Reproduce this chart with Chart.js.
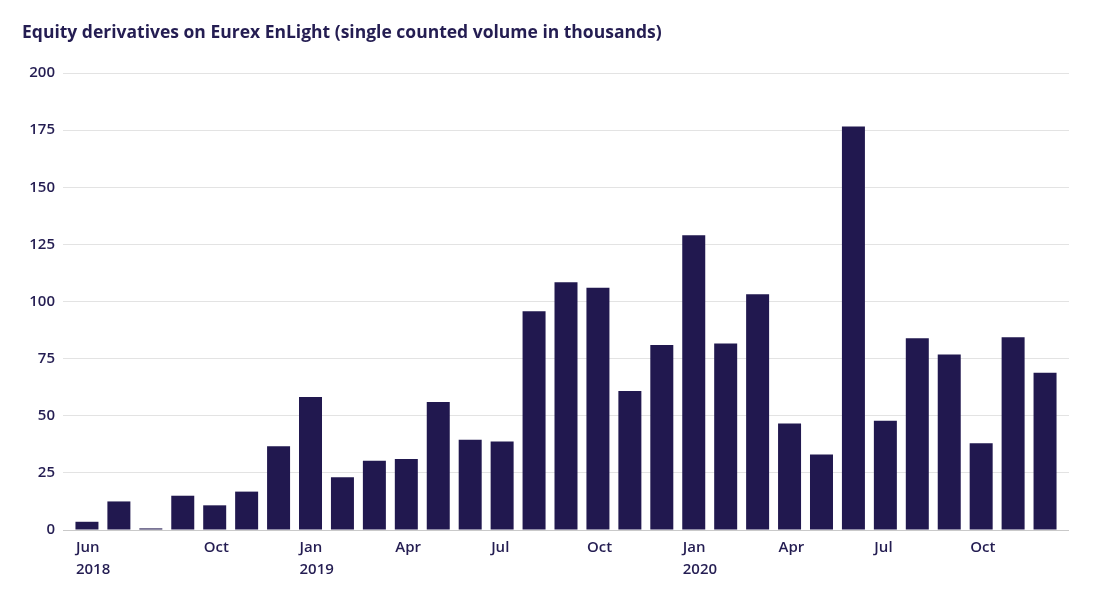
<!DOCTYPE html>
<html>
<head>
<meta charset="utf-8">
<script src="https://cdn.jsdelivr.net/npm/chart.js@4.4.0/dist/chart.umd.min.js"></script>
<style>
  html, body { margin: 0; padding: 0; background: #fff; }
  #wrap { width: 1093px; height: 590px; }
</style>
</head>
<body>
<div id="wrap"><canvas id="volumeChart" width="1093" height="590"></canvas></div>
<script>
// monthly single counted volume (thousands), Jun 2018 - Dec 2020
const months = [
  'Jun 2018', 'Jul 2018', 'Aug 2018', 'Sep 2018', 'Oct 2018', 'Nov 2018', 'Dec 2018',
  'Jan 2019', 'Feb 2019', 'Mar 2019', 'Apr 2019', 'May 2019', 'Jun 2019', 'Jul 2019',
  'Aug 2019', 'Sep 2019', 'Oct 2019', 'Nov 2019', 'Dec 2019',
  'Jan 2020', 'Feb 2020', 'Mar 2020', 'Apr 2020', 'May 2020', 'Jun 2020', 'Jul 2020',
  'Aug 2020', 'Sep 2020', 'Oct 2020', 'Nov 2020', 'Dec 2020'
];
const volumes = [
  3.6, 12.5, 0.7, 15, 10.8, 16.8, 36.7,
  58.2, 23.1, 30.3, 31.1, 56, 39.5, 38.7,
  95.7, 108.4, 106, 60.8, 81,
  129, 81.6, 103.2, 46.6, 33, 176.6, 47.8,
  83.9, 76.8, 38, 84.3, 68.8
];
const tickIndex = [0, 4, 7, 10, 13, 16, 19, 22, 25, 28];
const tickLabels = [['Jun', '2018'], 'Oct', ['Jan', '2019'], 'Apr', 'Jul', 'Oct', ['Jan', '2020'], 'Apr', 'Jul', 'Oct'];
const yTicks = [0, 25, 50, 75, 100, 125, 150, 175, 200];

const navy = '#21184f';
const textColor = '#241d52';

document.addEventListener('DOMContentLoaded', function () {
  const ctx = document.getElementById('volumeChart');
  new Chart(ctx, {
    type: 'bar',
    data: {
      datasets: [{
        label: 'Volume',
        data: volumes.map((v, i) => ({ x: i, y: v })),
        backgroundColor: navy,
        borderWidth: 0,
        barPercentage: 0.72,
        categoryPercentage: 1
      }]
    },
    options: {
      responsive: false,
      animation: false,
      layout: { padding: { left: 22, right: 24, top: 0, bottom: 4 } },
      plugins: {
        legend: { display: false },
        tooltip: { enabled: false },
        title: {
          display: true,
          text: 'Equity derivatives on Eurex EnLight (single counted volume in thousands)',
          align: 'start',
          color: textColor,
          font: { family: 'Open Sans', size: 17.5, weight: 'bold', lineHeight: 1.2 },
          padding: { top: 23, bottom: 29 }
        }
      },
      scales: {
        x: {
          type: 'linear',
          offset: false,
          min: -0.75,
          max: months.length - 0.25,
          grid: { display: false, offset: false },
          border: { display: false },
          afterBuildTicks: function (scale) {
            scale.ticks = tickIndex.map(v => ({ value: v }));
          },
          afterFit: function (scale) { scale.height = 56; },
          ticks: {
            autoSkip: false,
            maxRotation: 0,
            align: 'start',
            labelOffset: -11,
            padding: -1,
            color: textColor,
            font: { family: 'Open Sans', size: 15, weight: '600', lineHeight: 1.45 },
            callback: function (value) {
              const k = tickIndex.indexOf(value);
              return k >= 0 ? tickLabels[k] : '';
            }
          }
        },
        y: {
          min: 0,
          max: 200,
          afterBuildTicks: function (scale) {
            scale.ticks = yTicks.map(v => ({ value: v }));
          },
          afterFit: function (scale) { scale.width = 41; },
          border: { display: false },
          grid: {
            color: c => c.tick && c.tick.value === 0 ? '#c9c9c9' : '#e3e3e3',
            lineWidth: 1,
            drawTicks: false
          },
          ticks: {
            padding: 8,
            color: textColor,
            font: { family: 'Open Sans', size: 15, weight: '600' }
          }
        }
      }
    }
  });
});
</script>
</body>
</html>
